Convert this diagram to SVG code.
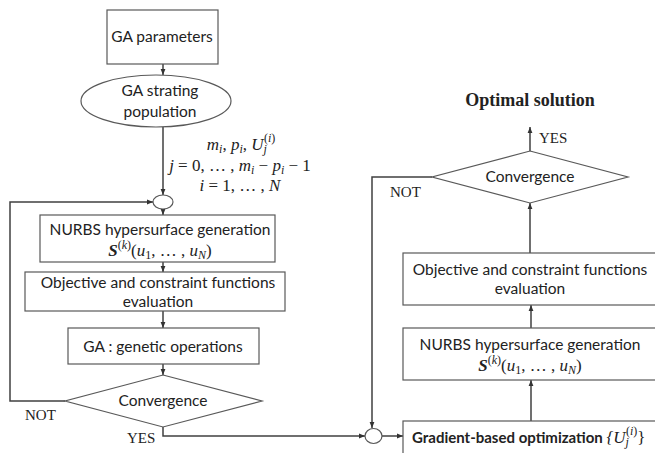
<svg xmlns="http://www.w3.org/2000/svg" width="655" height="453" viewBox="0 0 655 453">
<style>
.box{fill:#fff;stroke:#595959;stroke-width:1.2}
.ln{fill:none;stroke:#404040;stroke-width:1.5}
.t{font-family:Lato,"Open Sans",sans-serif;font-size:15.5px;fill:#222;text-anchor:middle}
.m{font-family:"Liberation Serif",serif;font-style:italic;font-size:17px;fill:#222;text-anchor:middle}
.r{font-style:normal}
.s{font-family:"Liberation Serif",serif;font-size:15px;fill:#222}
.b{font-family:"Liberation Serif",serif;font-weight:bold;font-size:18px;fill:#222;text-anchor:middle}
.bs{font-family:Lato,"Open Sans",sans-serif;font-weight:bold;font-size:15px;fill:#222}
</style>
<defs>
<marker id="ah" viewBox="0 0 10 10" refX="10" refY="5" markerWidth="6" markerHeight="6" markerUnits="userSpaceOnUse" orient="auto">
<path d="M0,1 L10,5 L0,9 z" fill="#333"/>
</marker>
</defs>
<rect width="655" height="453" fill="#fff"/>

<g id="connectors">
<line class="ln" x1="163" y1="64" x2="163" y2="75" marker-end="url(#ah)"/>
<line class="ln" x1="163" y1="127" x2="163" y2="195" marker-end="url(#ah)"/>
<line class="ln" x1="163" y1="209" x2="163" y2="215" marker-end="url(#ah)"/>
<line class="ln" x1="163" y1="262" x2="163" y2="272" marker-end="url(#ah)"/>
<line class="ln" x1="163" y1="311" x2="163" y2="328" marker-end="url(#ah)"/>
<line class="ln" x1="163" y1="364" x2="163" y2="375" marker-end="url(#ah)"/>
<polyline class="ln" points="65,401 10,401 10,202 153,202" marker-end="url(#ah)"/>
<polyline class="ln" points="163,427 163,436 365,436" marker-end="url(#ah)"/>
<line class="ln" x1="382" y1="436" x2="403" y2="436" marker-end="url(#ah)"/>
<polyline class="ln" points="432,177 372,177 372,428" marker-end="url(#ah)"/>
<line class="ln" x1="531" y1="421" x2="531" y2="380" marker-end="url(#ah)"/>
<line class="ln" x1="531" y1="328" x2="531" y2="305" marker-end="url(#ah)"/>
<line class="ln" x1="530" y1="253" x2="530" y2="203" marker-end="url(#ah)"/>
<line class="ln" x1="530" y1="151" x2="530" y2="127" marker-end="url(#ah)"/>
</g>

<g id="ga-parameters">
<rect class="box" x="107" y="10" width="111" height="54"/>
<text class="t" x="162" y="42" font-size="16">GA parameters</text>
</g>

<g id="ga-starting-population">
<ellipse class="box" cx="156" cy="101" rx="75" ry="26"/>
<text class="t" x="160" y="96" font-size="16">GA strating</text>
<text class="t" x="160" y="117" font-size="16">population</text>
</g>

<g id="params-label">
<text class="m" x="241" y="150">m<tspan font-size="12" dy="3">i</tspan><tspan class="r" dy="-3">, </tspan>p<tspan font-size="12" dy="3">i</tspan><tspan class="r" dy="-3">, </tspan>U<tspan font-size="12" dy="3">j</tspan><tspan class="r" font-size="12" dx="-3" dy="-11">(</tspan><tspan font-size="12">i</tspan><tspan class="r" font-size="12">)</tspan></text>
<text class="m" x="240" y="171">j<tspan class="r"> = 0, … , </tspan>m<tspan font-size="12" dy="3">i</tspan><tspan class="r" dy="-3"> − </tspan>p<tspan font-size="12" dy="3">i</tspan><tspan class="r" dy="-3"> − 1</tspan></text>
<text class="m" x="240" y="191">i<tspan class="r"> = 1, … , </tspan>N</text>
</g>

<g id="merge-left">
<ellipse class="box" cx="163" cy="202" rx="10" ry="7"/>
</g>

<g id="nurbs-left">
<rect class="box" x="40" y="215" width="235" height="47"/>
<text class="t" x="160" y="235">NURBS hypersurface generation</text>
<text class="m" x="160" y="256"><tspan font-weight="bold">S</tspan><tspan class="r" font-size="12" dy="-7">(</tspan><tspan font-size="12">k</tspan><tspan class="r" font-size="12">)</tspan><tspan class="r" dy="7">(</tspan>u<tspan class="r" font-size="12" dy="3">1</tspan><tspan class="r" dy="-3">, … , </tspan>u<tspan font-size="12" dy="3">N</tspan><tspan class="r" dy="-3">)</tspan></text>
</g>

<g id="objective-left">
<rect class="box" x="25" y="272" width="260" height="39"/>
<text class="t" x="158" y="288">Objective and constraint functions</text>
<text class="t" x="158" y="307">evaluation</text>
</g>

<g id="ga-operations">
<rect class="box" x="68" y="328" width="191" height="36"/>
<text class="t" x="163" y="352">GA : genetic operations</text>
</g>

<g id="convergence-left">
<polygon class="box" points="163,375 262,401 163,427 65,401"/>
<text class="t" x="163" y="406">Convergence</text>
</g>
<text class="s" x="25" y="420">NOT</text>
<text class="s" x="127" y="443">YES</text>

<g id="merge-right">
<ellipse class="box" cx="373.5" cy="436" rx="8.5" ry="7.5"/>
</g>

<g id="gradient">
<rect class="box" x="403" y="421" width="260" height="40"/>
<text x="412" y="443"><tspan class="bs">Gradient-based optimization </tspan><tspan class="m" text-anchor="start">{U<tspan font-size="12" dy="3">j</tspan><tspan class="r" font-size="12" dx="-3" dy="-11">(</tspan><tspan font-size="12">i</tspan><tspan class="r" font-size="12">)</tspan><tspan class="r" dy="8">}</tspan></tspan></text>
</g>

<g id="nurbs-right">
<rect class="box" x="403" y="328" width="260" height="52"/>
<text class="t" x="530" y="350">NURBS hypersurface generation</text>
<text class="m" x="530" y="371"><tspan font-weight="bold">S</tspan><tspan class="r" font-size="12" dy="-7">(</tspan><tspan font-size="12">k</tspan><tspan class="r" font-size="12">)</tspan><tspan class="r" dy="7">(</tspan>u<tspan class="r" font-size="12" dy="3">1</tspan><tspan class="r" dy="-3">, … , </tspan>u<tspan font-size="12" dy="3">N</tspan><tspan class="r" dy="-3">)</tspan></text>
</g>

<g id="objective-right">
<rect class="box" x="403" y="253" width="260" height="52"/>
<text class="t" x="530" y="275">Objective and constraint functions</text>
<text class="t" x="530" y="294">evaluation</text>
</g>

<g id="convergence-right">
<polygon class="box" points="530,151 628,177 530,203 432,177"/>
<text class="t" x="530" y="182">Convergence</text>
</g>
<text class="s" x="390" y="197">NOT</text>
<text class="s" x="539" y="143">YES</text>
<text class="b" x="530" y="106">Optimal solution</text>
</svg>
